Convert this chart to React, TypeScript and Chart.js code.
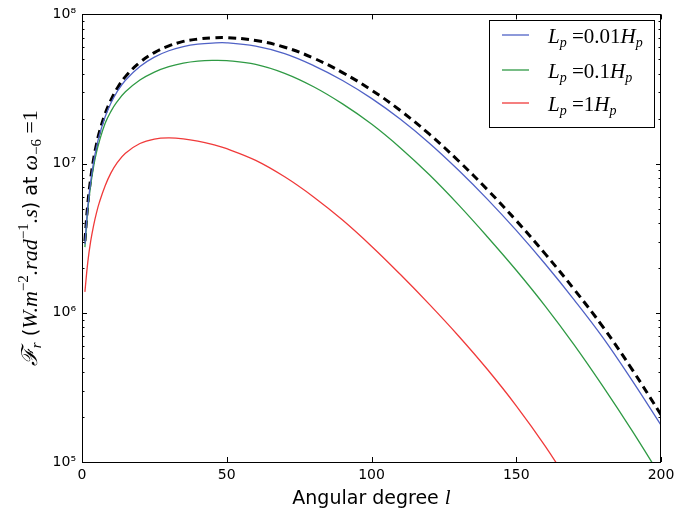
import { useEffect, useRef } from 'react';
import { Chart, registerables } from 'chart.js';

Chart.register(...registerables);

// Angular degree l
const degrees = [1, 2, 3, 4, 5, 6, 8, 10, 12, 15, 20, 25, 30, 35, 40, 45, 50, 60, 70, 80, 90, 100, 110, 120, 130, 140, 150, 160, 170, 180, 190, 200];

// L_p = 0.01 H_p (blue)
const fluxLp001 = [2.884e6, 5.129e6, 7.586e6, 1.023e7, 1.288e7, 1.549e7, 2.061e7, 2.547e7, 3.006e7, 3.622e7, 4.482e7, 5.176e7, 5.707e7, 6.081e7, 6.317e7, 6.427e7, 6.449e7, 6.124e7, 5.458e7, 4.539e7, 3.606e7, 2.735e7, 1.982e7, 1.371e7, 9.057e6, 5.781e6, 3.565e6, 2.123e6, 1.222e6, 6.792e5, 3.524e5, 1.766e5];

// L_p = 0.1 H_p (green)
const fluxLp01 = [2.754e6, 4.898e6, 7.161e6, 9.550e6, 1.189e7, 1.413e7, 1.862e7, 2.239e7, 2.582e7, 3.027e7, 3.631e7, 4.108e7, 4.467e7, 4.716e7, 4.864e7, 4.920e7, 4.898e7, 4.624e7, 4.027e7, 3.273e7, 2.512e7, 1.841e7, 1.274e7, 8.414e6, 5.309e6, 3.236e6, 1.928e6, 1.109e6, 6.095e5, 3.199e5, 1.622e5, 7.943e4];

// L_p = 1 H_p (red), up to l = 170
const fluxLp1 = [1.380e6, 2.188e6, 3.020e6, 3.846e6, 4.677e6, 5.495e6, 7.112e6, 8.670e6, 1.005e7, 1.174e7, 1.363e7, 1.460e7, 1.486e7, 1.466e7, 1.416e7, 1.345e7, 1.258e7, 1.051e7, 8.155e6, 5.978e6, 4.184e6, 2.796e6, 1.805e6, 1.139e6, 7.023e5, 4.183e5, 2.380e5, 1.278e5, 6.404e4];

// black dashed curve
const fluxDashed = [3.020e6, 5.371e6, 7.943e6, 1.071e7, 1.349e7, 1.622e7, 2.158e7, 2.667e7, 3.162e7, 3.828e7, 4.769e7, 5.546e7, 6.144e7, 6.591e7, 6.831e7, 6.966e7, 6.990e7, 6.684e7, 6.026e7, 5.093e7, 4.074e7, 3.111e7, 2.265e7, 1.574e7, 1.045e7, 6.699e6, 4.150e6, 2.483e6, 1.436e6, 8.017e5, 4.179e5, 2.075e5];

const xTicks = [0, 50, 100, 150, 200];
const yDecades = [1e5, 1e6, 1e7, 1e8];
const yTickLabels = ['10\u2075', '10\u2076', '10\u2077', '10\u2078'];

const legendLabels = ['0.01', '0.1', '1'];
const seriesColors = ['#5062c6', '#2f9a44', '#f03a3a'];

type Seg = { t: string; f: string; dy?: number };

const SERIF = '"Liberation Serif", "DejaVu Serif", serif';
const SANS = '"DejaVu Sans", sans-serif';

function measureRich(ctx: CanvasRenderingContext2D, segs: Seg[]) {
  let w = 0;
  for (const s of segs) {
    ctx.font = s.f;
    w += ctx.measureText(s.t).width;
  }
  return w;
}

function drawRich(ctx: CanvasRenderingContext2D, segs: Seg[], x: number, y: number) {
  let cx = x;
  for (const s of segs) {
    ctx.font = s.f;
    ctx.fillText(s.t, cx, y + (s.dy || 0));
    cx += ctx.measureText(s.t).width;
  }
  return cx;
}

const decorPlugin = {
  id: 'decor',
  afterDraw(chart: any) {
    const ctx: CanvasRenderingContext2D = chart.ctx;
    const { left, right, top, bottom } = chart.chartArea;
    const xs = chart.scales.x;
    const ys = chart.scales.y;
    ctx.save();
    ctx.strokeStyle = '#000';
    ctx.lineWidth = 1;
    // frame
    ctx.strokeRect(Math.round(left) + 0.5, Math.round(top) + 0.5, Math.round(right - left) - 1, Math.round(bottom - top));
    // x ticks (inward, bottom and top)
    ctx.beginPath();
    for (const v of xTicks) {
      const px = Math.round(xs.getPixelForValue(v)) + 0.5;
      ctx.moveTo(px, bottom);
      ctx.lineTo(px, bottom - 5);
      ctx.moveTo(px, top);
      ctx.lineTo(px, top + 5);
    }
    // y ticks, majors and minors on left and right
    for (let e = 5; e <= 8; e++) {
      for (let k = 1; k <= 9; k++) {
        const v = k * Math.pow(10, e);
        if (v > 1e8) break;
        const py = Math.round(ys.getPixelForValue(v)) + 0.5;
        const len = k === 1 ? 5 : 2.5;
        ctx.moveTo(left, py);
        ctx.lineTo(left + len, py);
        ctx.moveTo(right, py);
        ctx.lineTo(right - len, py);
      }
    }
    ctx.stroke();

    ctx.fillStyle = '#000';
    ctx.textBaseline = 'alphabetic';
    ctx.textAlign = 'left';

    // x title
    const xt: Seg[] = [
      { t: 'Angular degree ', f: `19px ${SANS}` },
      { t: 'l', f: `italic 21px ${SERIF}` },
    ];
    const xw = measureRich(ctx, xt);
    drawRich(ctx, xt, (left + right) / 2 - xw / 2, 504);

    // y title (rotated)
    const it = `italic 22px ${SERIF}`;
    const up = `22px ${SERIF}`;
    const sm = `15px ${SERIF}`;
    const smi = `italic 15px ${SERIF}`;
    const sans = `19px ${SANS}`;
    const yt: Seg[] = [
      { t: '\u2131', f: it },
      { t: 'r', f: smi, dy: 4 },
      { t: ' (', f: sans },
      { t: 'W.m', f: it },
      { t: '\u22122', f: sm, dy: -9 },
      { t: '.rad', f: it },
      { t: '\u22121', f: sm, dy: -9 },
      { t: '.s', f: it },
      { t: ') at ', f: sans },
      { t: '\u03c9', f: it },
      { t: '\u22126', f: sm, dy: 4 },
      { t: ' =1', f: up },
    ];
    const yw = measureRich(ctx, yt);
    ctx.save();
    ctx.translate(37, (top + bottom) / 2);
    ctx.rotate(-Math.PI / 2);
    drawRich(ctx, yt, -yw / 2, 0);
    ctx.restore();

    // legend
    const bx = 489, by = 20, bw = 165, bh = 107;
    ctx.fillStyle = '#fff';
    ctx.fillRect(bx, by, bw, bh);
    ctx.strokeStyle = '#000';
    ctx.lineWidth = 1;
    ctx.strokeRect(bx + 0.5, by + 0.5, bw, bh);
    const rows = [35, 70, 103];
    const lit = `italic 21px ${SERIF}`;
    const lup = `21px ${SERIF}`;
    const lsmi = `italic 14px ${SERIF}`;
    for (let i = 0; i < 3; i++) {
      ctx.strokeStyle = seriesColors[i];
      ctx.lineWidth = 1.3;
      ctx.beginPath();
      ctx.moveTo(502, rows[i]);
      ctx.lineTo(529, rows[i]);
      ctx.stroke();
      ctx.fillStyle = '#000';
      const segs: Seg[] = [
        { t: 'L', f: lit },
        { t: 'p', f: lsmi, dy: 4 },
        { t: ' =' + legendLabels[i], f: lup },
        { t: 'H', f: lit },
        { t: 'p', f: lsmi, dy: 4 },
      ];
      drawRich(ctx, segs, 548, rows[i] + 8);
    }
    ctx.restore();
  },
};

const toPoints = (vals: number[]) => vals.map((v, i) => ({ x: degrees[i], y: v }));

export default function App() {
  const ref = useRef<HTMLCanvasElement | null>(null);
  useEffect(() => {
    if (!ref.current) return;
    const common = { pointRadius: 0, tension: 0.4 };
    const chart = new Chart(ref.current, {
      type: 'line',
      data: {
        datasets: [
          { label: 'Lp=0.01Hp', data: toPoints(fluxLp001), borderColor: seriesColors[0], borderWidth: 1.3, ...common },
          { label: 'Lp=0.1Hp', data: toPoints(fluxLp01), borderColor: seriesColors[1], borderWidth: 1.3, ...common },
          { label: 'Lp=1Hp', data: toPoints(fluxLp1), borderColor: seriesColors[2], borderWidth: 1.3, ...common },
          { label: 'total', data: toPoints(fluxDashed), borderColor: '#000', borderWidth: 3, borderDash: [8, 5], ...common },
        ],
      } as any,
      options: {
        animation: false,
        responsive: false,
        events: [],
        layout: { padding: { top: 11, right: 38, left: 0, bottom: 0 } },
        plugins: { legend: { display: false }, tooltip: { enabled: false } },
        scales: {
          x: {
            type: 'linear',
            min: 0,
            max: 200,
            afterBuildTicks: (s: any) => { s.ticks = xTicks.map((v) => ({ value: v })); },
            afterFit: (s: any) => { s.height = 51; },
            grid: { display: false, drawTicks: false },
            border: { display: false },
            ticks: { autoSkip: false, maxRotation: 0, padding: 5, color: '#000', font: { family: 'DejaVu Sans', size: 14 } },
          },
          y: {
            type: 'logarithmic',
            min: 1e5,
            max: 1e8,
            afterBuildTicks: (s: any) => { s.ticks = yDecades.map((v) => ({ value: v, major: true })); },
            afterFit: (s: any) => { s.width = 82; },
            grid: { display: false, drawTicks: false },
            border: { display: false },
            ticks: {
              autoSkip: false,
              padding: 6,
              color: '#000',
              font: { family: 'DejaVu Sans', size: 14 },
              callback: (v: any) => {
                const i = yDecades.indexOf(Number(v));
                return i >= 0 ? yTickLabels[i] : '';
              },
            },
          },
        },
      } as any,
      plugins: [decorPlugin],
    });
    return () => chart.destroy();
  }, []);
  return (
    <div style={{ position: 'fixed', left: 0, top: 0, width: 699, height: 513, background: '#fff' }}>
      <canvas ref={ref} width={699} height={513} style={{ display: 'block' }} />
    </div>
  );
}
